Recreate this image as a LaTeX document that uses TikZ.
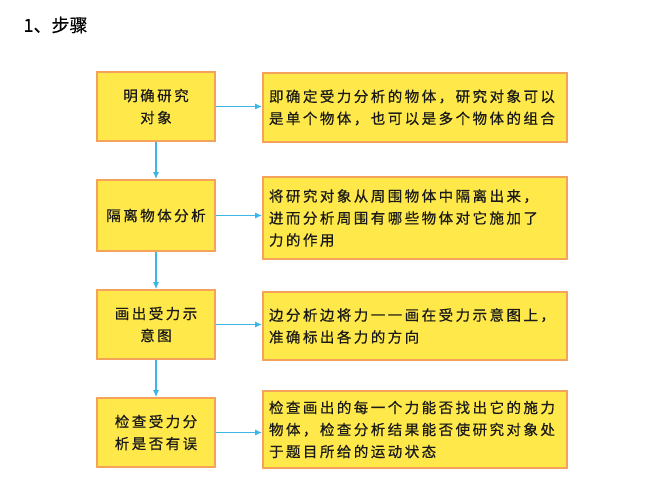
\documentclass[tikz,border=0pt]{standalone}
\usepackage{fontspec}
\usepackage{tikz}
\usetikzlibrary{arrows.meta,positioning,calc}
\usepackage{xcolor}
\newfontfamily\cjk[LetterSpace=17,FakeBold=0.6]{Noto Sans CJK SC}
\newfontfamily\cjktitle[FakeBold=0.4]{Noto Sans CJK SC}
\definecolor{boxfill}{HTML}{FFE84A}
\definecolor{boxline}{HTML}{F5A35A}
\definecolor{flowline}{HTML}{3CB6E6}
\definecolor{inktext}{HTML}{1A1A1A}
\tikzset{
  stepbox/.style={draw=boxline,fill=boxfill,line width=1.6pt,align=center,
    minimum width=118pt,inner sep=4pt,text=inktext,font=\cjk\fontsize{14.5}{22}\selectfont},
  descbox/.style={draw=boxline,fill=boxfill,line width=1.6pt,align=left,
    minimum width=304pt,text width=292pt,inner xsep=6pt,text=inktext,
    font=\cjk\fontsize{14.5}{22}\selectfont},
  arrow/.style={-{Latex[length=7pt,width=6pt]},draw=flowline,line width=1.4pt}
}
\begin{document}
\begin{tikzpicture}[x=1pt,y=-1pt]
  \useasboundingbox[fill=white] (0,0) rectangle (663,492);
  \node[anchor=west,font=\cjktitle\fontsize{18}{20}\selectfont] (t) at (20,25) {1、步骤};
  % left column: steps
  \node[stepbox,minimum height=69pt] (s1) at (156,106.5) {明确研究\\对象};
  \node[stepbox,minimum height=71pt] (s2) at (156,215.5) {隔离物体分析};
  \node[stepbox,minimum height=69pt] (s3) at (156,324.5) {画出受力示\\意图};
  \node[stepbox,minimum height=69pt] (s4) at (156,432.5) {检查受力分\\析是否有误};
  % right column: explanations
  \node[descbox,minimum height=69pt] (d1) at (415,107.5) {即确定受力分析的物体，研究对象可以\\是单个物体，也可以是多个物体的组合};
  \node[descbox,minimum height=82pt] (d2) at (415,218) {将研究对象从周围物体中隔离出来，\\进而分析周围有哪些物体对它施加了\\力的作用};
  \node[descbox,minimum height=68pt] (d3) at (415,326) {边分析边将力一一画在受力示意图上，\\准确标出各力的方向};
  \node[descbox,minimum height=77pt] (d4) at (415,429.5) {检查画出的每一个力能否找出它的施力\\物体，检查分析结果能否使研究对象处\\于题目所给的运动状态};
  \foreach \i in {1,...,4}
    \draw[arrow] (s\i.east) -- (s\i.east -| d\i.west);
  \draw[arrow] (s1) -- (s2);
  \draw[arrow] (s2) -- (s3);
  \draw[arrow] (s3) -- (s4);
\end{tikzpicture}
\end{document}
